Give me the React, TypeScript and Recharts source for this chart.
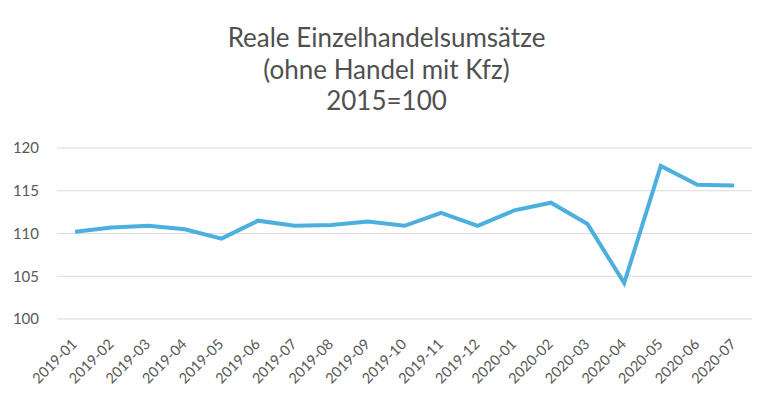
import { CartesianGrid, Line, LineChart, XAxis, YAxis } from "recharts";

const months = [
    "2019-01", "2019-02", "2019-03", "2019-04", "2019-05", "2019-06", "2019-07",
    "2019-08", "2019-09", "2019-10", "2019-11", "2019-12", "2020-01", "2020-02",
    "2020-03", "2020-04", "2020-05", "2020-06", "2020-07",
];
const umsatz = [
    110.2, 110.7, 110.9, 110.5, 109.4, 111.5, 110.9, 111.0, 111.4, 110.9,
    112.4, 110.9, 112.7, 113.6, 111.1, 104.2, 117.9, 115.7, 115.6,
];
const yTicks = [100, 105, 110, 115, 120];
const titleLines = ["Reale Einzelhandelsumsätze", "(ohne Handel mit Kfz)", "2015=100"];

const font = "Lato, 'Open Sans', sans-serif";
const textColor = "#595959";

const data = months.map((m, i) => ({ month: m, value: umsatz[i] }));

function MonthTick({ x, y, payload }: { x?: number; y?: number; payload?: { value: string } }) {
    const ax = (x ?? 0) + 3;
    const ay = (y ?? 0) + 18;
    return (
        <text
            x={ax}
            y={ay}
            transform={`rotate(-45, ${ax}, ${ay})`}
            textAnchor="end"
            fill={textColor}
            fontSize={14.5}
            fontFamily={font}
        >
            {payload?.value}
        </text>
    );
}

export default function App() {
    return (
        <div style={{ position: "absolute", left: 0, top: 0, width: 773, height: 399, background: "#fff" }}>
            <div
                style={{
                    position: "absolute",
                    left: 0,
                    top: 22,
                    width: 773,
                    textAlign: "center",
                    fontFamily: font,
                    fontSize: 26,
                    lineHeight: "31.5px",
                    color: "#505050",
                }}
            >
                {titleLines.map((t) => (
                    <div key={t}>{t}</div>
                ))}
            </div>
            <LineChart
                width={773}
                height={399}
                data={data}
                margin={{ top: 148, right: 21, left: 0, bottom: 0 }}
            >
                <CartesianGrid vertical={false} stroke="#d9d9d9" />
                <XAxis
                    dataKey="month"
                    axisLine={false}
                    tickLine={false}
                    height={80}
                    interval={0}
                    padding={{ left: 18, right: 18 }}
                    tick={<MonthTick />}
                />
                <YAxis
                    domain={[100, 120]}
                    ticks={yTicks}
                    axisLine={false}
                    tickLine={false}
                    width={57}
                    tickMargin={12}
                    tick={{ fill: textColor, fontSize: 15, fontFamily: font }}
                />
                <Line
                    type="linear"
                    dataKey="value"
                    stroke="#4dafdd"
                    strokeWidth={4}
                    dot={false}
                    isAnimationActive={false}
                />
            </LineChart>
        </div>
    );
}
